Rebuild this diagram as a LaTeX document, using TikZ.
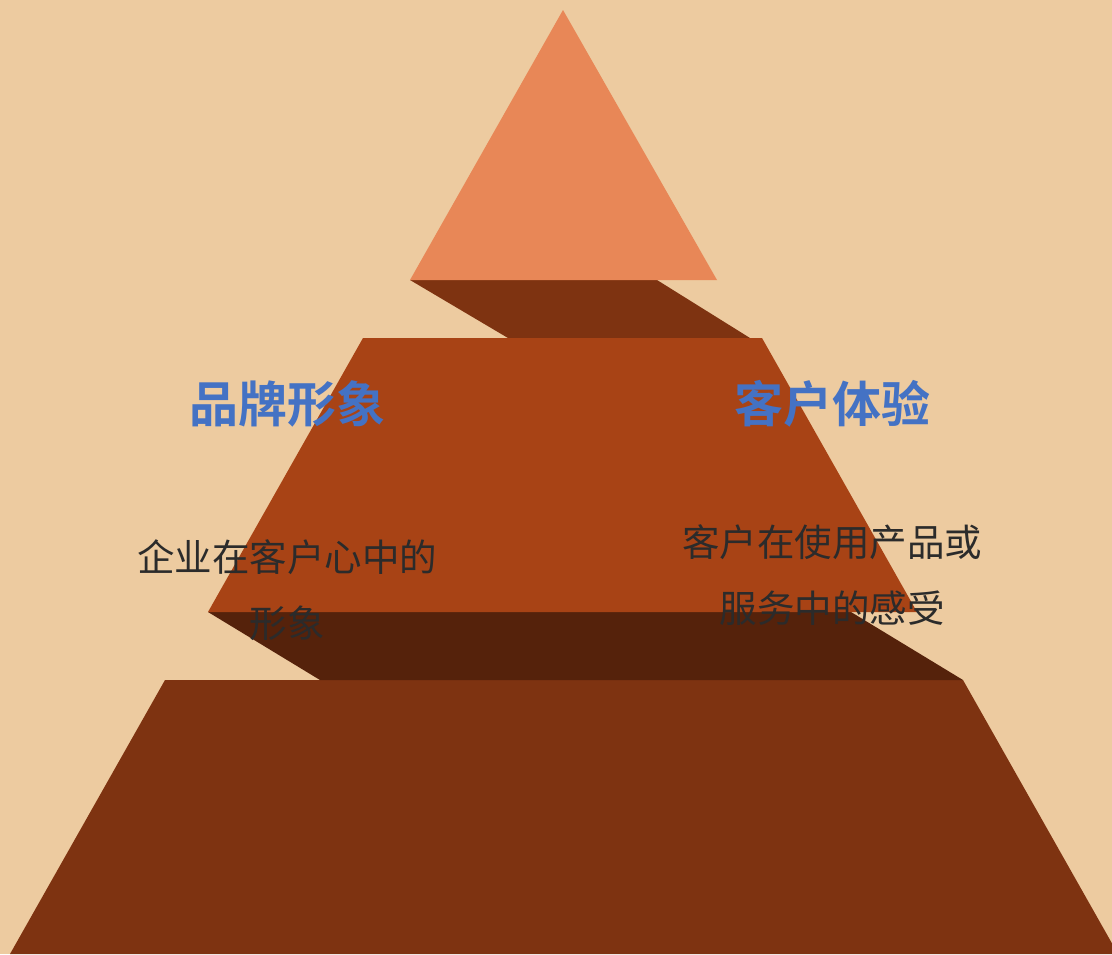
\documentclass[tikz,border=0pt]{standalone}
\usepackage{fontspec}
\newfontfamily\cjk{Noto Sans CJK SC}
\newfontfamily\cjkbold{Noto Sans CJK SC Bold}
\definecolor{bgc}{HTML}{EDCBA0}
\definecolor{topc}{HTML}{E88757}
\definecolor{midc}{HTML}{A84315}
\definecolor{shadeA}{HTML}{7E3311}
\definecolor{shadeB}{HTML}{55220B}
\definecolor{basec}{HTML}{7E3311}
\definecolor{titlec}{HTML}{4472C4}
\definecolor{bodyc}{HTML}{2B2B2B}
\tikzset{
  titletext/.style={text=titlec, inner sep=0pt, font=\cjkbold\fontsize{49}{58}\selectfont},
  bodytext/.style={text=bodyc, inner sep=0pt, align=center, font=\cjk\fontsize{37.5}{66}\selectfont},
}
\begin{document}
\begin{tikzpicture}[x=1pt,y=-1pt]
\fill[bgc] (0,0) rectangle (1112,954);
\useasboundingbox (0,0) rectangle (1112,954);
% bottom layer
\fill[basec] (165,680) -- (963,680) -- (1118,954) -- (10,954) -- cycle;
% lower shadow band
\fill[shadeB] (208,612) -- (851,612) -- (963,680) -- (320,680) -- cycle;
% upper shadow band
\fill[shadeA] (410,280) -- (657,280) -- (750,338) -- (508,338) -- cycle;
% middle layer
\fill[midc] (363,338) -- (762,338) -- (917,612) -- (208,612) -- cycle;
% top triangle
\fill[topc] (563,10) -- (717,280) -- (410,280) -- cycle;
% texts
\node[titletext] (t1) at (287,404) {品牌形象};
\node[titletext] (t2) at (832,404) {客户体验};
\node[bodytext] (b1) at (287,590) {企业在客户心中的\\形象};
\node[bodytext] (b2) at (832,575) {客户在使用产品或\\服务中的感受};
\end{tikzpicture}
\end{document}
